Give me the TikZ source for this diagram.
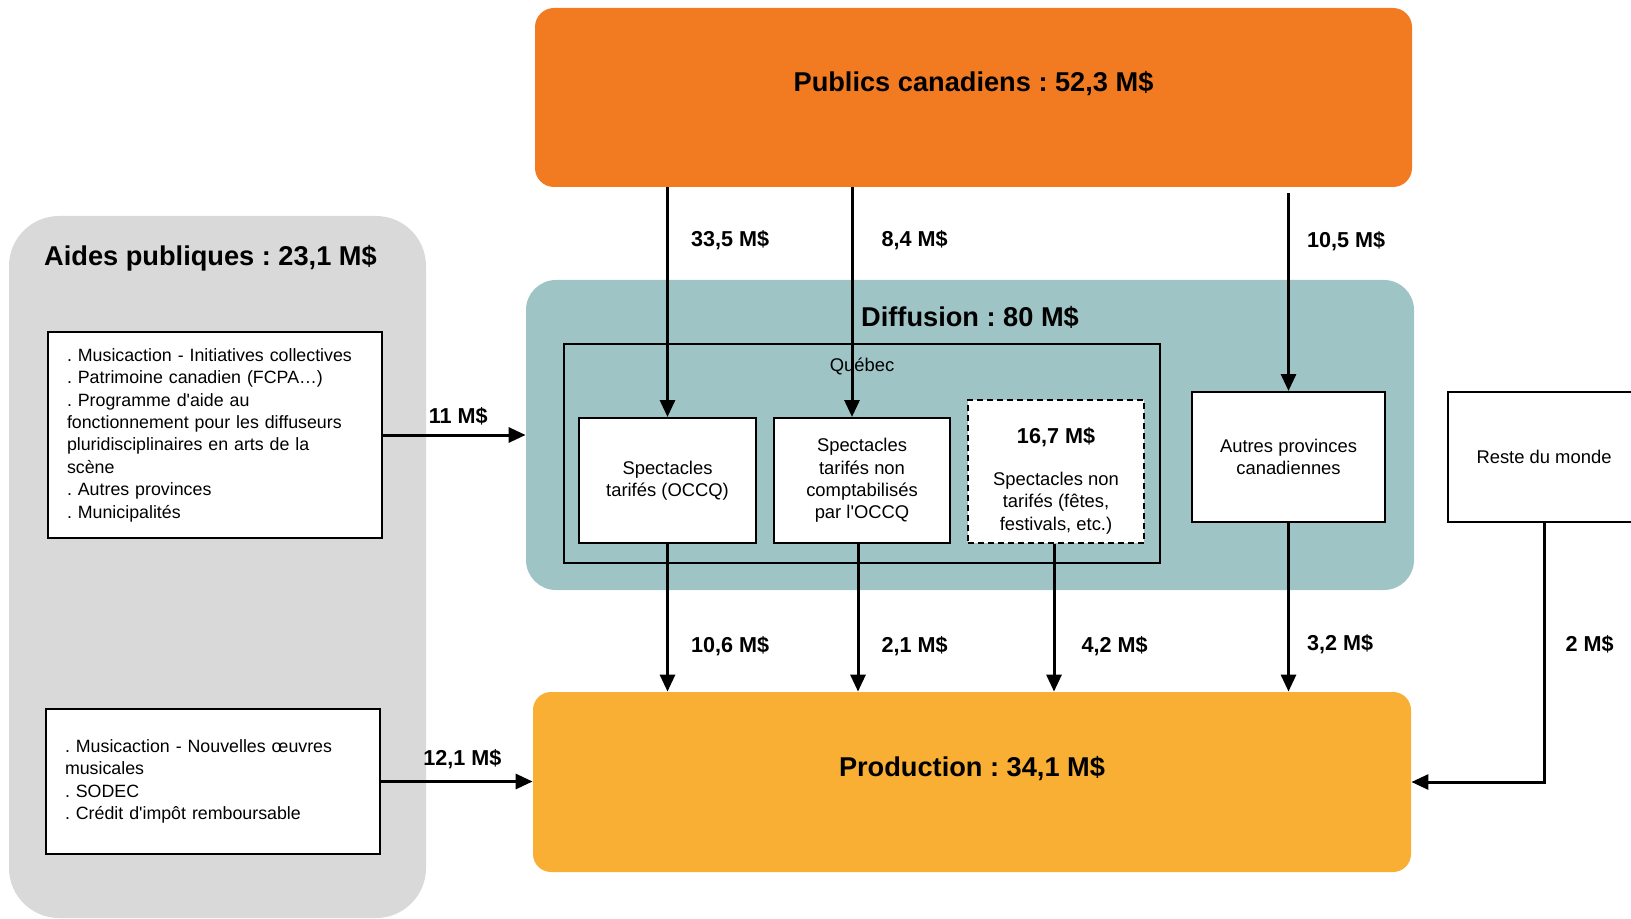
\documentclass[tikz,border=0pt]{standalone}
\usepackage{fontspec}
\setmainfont{Liberation Sans}
\usetikzlibrary{arrows.meta}
\frenchspacing
\hyphenpenalty=10000

\definecolor{publicscol}{RGB}{242,123,33}
\definecolor{prodcol}{RGB}{248,175,51}
\definecolor{diffcol}{RGB}{158,196,198}
\definecolor{aidescol}{RGB}{217,217,217}

\begin{document}
\begin{tikzpicture}[x=0.5pt,y=-0.5pt,
        title/.style={font=\bfseries\fontsize{13.6}{16}\selectfont},
        amount/.style={font=\bfseries\fontsize{10.8}{13}\selectfont,inner sep=0pt},
        boxtext/.style={font=\fontsize{9.2}{11.2}\selectfont,align=center},
        bloc/.style={rectangle,inner sep=0pt},
        whitebox/.style={draw,line width=1pt,fill=white,inner sep=0pt,boxtext},
        listbox/.style={whitebox,align=left,font=\fontsize{8.9}{11.2}\selectfont,text width=148pt,minimum width=167pt},
        flow/.style={line width=1.5pt,-{Triangle[length=8.5pt,width=7.5pt]}}]
    \useasboundingbox (0,0) rectangle (1631,919);

    % big coloured blocks
    \node[bloc,fill=aidescol,rounded corners=25pt,minimum width=208.5pt,minimum height=351pt,
        label={[title,xshift=-3.5pt,yshift=154.5pt]center:Aides publiques : 23,1 M\$}] (aides) at (217.5,567) {};
    \node[bloc,fill=publicscol,rounded corners=9.5pt,minimum width=438.5pt,minimum height=89.5pt,
        label={[title,yshift=6.75pt]center:Publics canadiens : 52,3 M\$}] (pub) at (973.5,97.5) {};
    \node[bloc,fill=diffcol,rounded corners=15pt,minimum width=444pt,minimum height=155pt,
        label={[title,yshift=59pt]center:Diffusion : 80 M\$}] (diff) at (970,435) {};
    \node[bloc,fill=prodcol,rounded corners=9pt,minimum width=439pt,minimum height=90pt,
        label={[title,yshift=6.5pt]center:Production : 34,1 M\$}] (prod) at (972,782) {};

    % Quebec frame
    \node[bloc,draw,line width=1pt,minimum width=298pt,minimum height=109.5pt,
        label={[boxtext,yshift=43.75pt]center:Québec}] (quebec) at (862,453.5) {};

    % white boxes
    \node[whitebox,minimum width=88.5pt,minimum height=62.5pt] (tarif) at (667.5,480.5) {Spectacles\\tarifés (OCCQ)};
    \node[whitebox,minimum width=88pt,minimum height=62.5pt] (noncompt) at (862,480.5) {Spectacles\\tarifés non\\comptabilisés\\par l\textquotesingle OCCQ};
    \node[whitebox,dashed,dash pattern=on 3pt off 2pt,minimum width=88pt,minimum height=71.5pt,
        label={[boxtext,yshift=-4.5pt]center:{{\bfseries\fontsize{10.8}{13}\selectfont 16,7 M\$}\\[9.8pt]Spectacles non\\tarifés (fêtes,\\festivals, etc.)}}] (gratuit) at (1056,471.5) {};
    \node[whitebox,minimum width=96.5pt,minimum height=65pt] (autres) at (1288.5,457) {Autres provinces\\canadiennes};
    \node[whitebox,minimum width=96pt,minimum height=65pt] (reste) at (1544,457) {Reste du monde};
    \node[listbox,minimum height=103pt] (aidesdiff) at (215,435) {. Musicaction - Initiatives collectives\\. Patrimoine canadien (FCPA\dots)\\. Programme d\textquotesingle aide au\\fonctionnement pour les diffuseurs\\pluridisciplinaires en arts de la\\scène\\. Autres provinces\\. Municipalités};
    \node[listbox,minimum height=72.5pt] (aidesprod) at (213,781.5) {. Musicaction - Nouvelles œuvres\\musicales\\. SODEC\\. Crédit d\textquotesingle impôt remboursable};

    % flows from the public
    \draw[flow] (pub.south -| tarif.north) -- node[amount,anchor=west,xshift=11pt,pos=0.23] {33,5 M\$} (tarif.north);
    \draw[flow] ([xshift=-5pt]pub.south -| noncompt.north) -- node[amount,anchor=west,xshift=14pt,pos=0.23] {8,4 M\$} ([xshift=-5pt]noncompt.north);
    \draw[flow] ([yshift=-3pt]pub.south -| autres.north) -- node[amount,anchor=west,xshift=8.5pt,pos=0.24] {10,5 M\$} (autres.north);

    % flows to production
    \draw[flow] (tarif.south) -- node[amount,anchor=west,xshift=11pt,pos=0.69] {10,6 M\$} (tarif.south |- prod.north);
    \draw[flow] ([xshift=-2pt]noncompt.south) -- node[amount,anchor=west,xshift=11pt,pos=0.69] {2,1 M\$} ([xshift=-2pt]noncompt.south |- prod.north);
    \draw[flow] ([xshift=-1pt]gratuit.south) -- node[amount,anchor=west,xshift=13pt,pos=0.69] {4,2 M\$} ([xshift=-1pt]gratuit.south |- prod.north);
    \draw[flow] (autres.south) -- node[amount,anchor=west,xshift=8.5pt,pos=0.72] {3,2 M\$} (autres.south |- prod.north);
    \draw[flow] (reste.south) |- node[amount,anchor=west,xshift=10pt,pos=0.235] {2 M\$} (prod.east);

    % public aid
    \draw[flow] (aidesdiff.east) -- node[amount,above=4pt,xshift=2pt] {11 M\$} (aidesdiff.east -| diff.west);
    \draw[flow] (aidesprod.east) -- node[amount,above=5.5pt,xshift=2.75pt] {12,1 M\$} (aidesprod.east -| prod.west);
\end{tikzpicture}
\end{document}
